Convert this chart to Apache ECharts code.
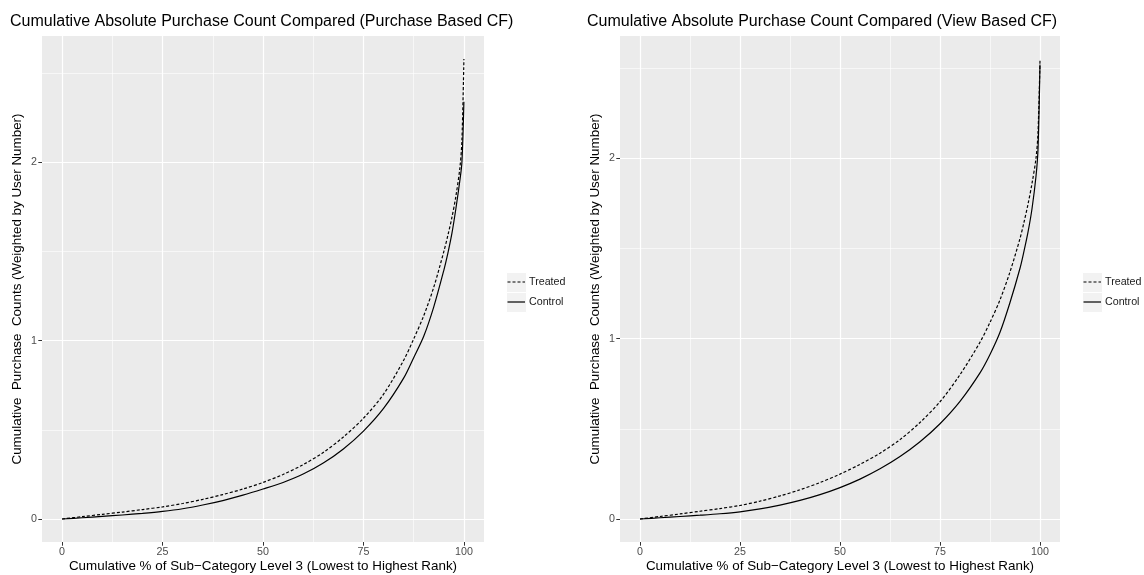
<!DOCTYPE html>
<html>
<head>
<meta charset="utf-8">
<script src="https://cdn.jsdelivr.net/npm/echarts@6/dist/echarts.min.js"></script>
<style>html,body{margin:0;padding:0;background:#fff}#c{width:1144px;height:575px}</style>
</head>
<body>
<div id="c"></div>
<script>
// ---- data ----
const titleLeft = 'Cumulative Absolute Purchase Count Compared (Purchase Based CF)';
const titleRight = 'Cumulative Absolute Purchase Count Compared (View Based CF)';
const xTitle = 'Cumulative % of Sub\u2212Category Level 3 (Lowest to Highest Rank)';
const yTitle = 'Cumulative  Purchase  Counts (Weighted by User Number)';
const seriesNames = ['Treated', 'Control'];
const xTicks = [0, 25, 50, 75, 100];
const xMinor = [12.5, 37.5, 62.5, 87.5];
const yTicks = [0, 1, 2];
const yMinor = [0.5, 1.5, 2.5];

const pctLeft      = [0, 5, 10, 15, 20, 25, 30, 35, 40, 45, 50, 55, 60, 65, 70, 75, 80, 85, 87.5, 90, 92.5, 95, 96, 97, 98, 99, 99.5, 100];
const treatedLeft  = [0, 0.013, 0.026, 0.039, 0.053, 0.068, 0.087, 0.110, 0.137, 0.168, 0.205, 0.250, 0.305, 0.373, 0.460, 0.565, 0.700, 0.890, 1.010, 1.140, 1.300, 1.500, 1.590, 1.690, 1.810, 1.970, 2.120, 2.580];
const controlLeft  = [0, 0.007, 0.0145, 0.0225, 0.0315, 0.0425, 0.0575, 0.0785, 0.1035, 0.1335, 0.168, 0.205, 0.252, 0.314, 0.393, 0.493, 0.620, 0.790, 0.905, 1.025, 1.190, 1.395, 1.490, 1.600, 1.740, 1.900, 2.000, 2.340];

const pctRight     = [0, 5, 10, 15, 20, 25, 30, 35, 40, 45, 50, 55, 60, 65, 70, 75, 80, 85, 87.5, 90, 92.5, 95, 96, 97, 98, 99, 99.5, 100];
const treatedRight = [0, 0.014, 0.028, 0.043, 0.058, 0.075, 0.099, 0.128, 0.162, 0.202, 0.249, 0.303, 0.365, 0.440, 0.535, 0.650, 0.800, 0.980, 1.090, 1.215, 1.370, 1.555, 1.645, 1.745, 1.860, 2.000, 2.140, 2.540];
const controlRight = [0, 0.007, 0.014, 0.021, 0.029, 0.040, 0.056, 0.077, 0.103, 0.135, 0.174, 0.221, 0.278, 0.346, 0.428, 0.528, 0.652, 0.810, 0.912, 1.035, 1.200, 1.390, 1.485, 1.590, 1.720, 1.900, 2.050, 2.520];

// ---- build ----
const FONT = "'Liberation Sans', Arial, Helvetica, sans-serif";
const zip = (xs, ys) => xs.map((x, i) => [x, ys[i]]);
const chart = echarts.init(document.getElementById('c'), null, {renderer: 'canvas'});
const TICK_FS = 10.7, AXT_FS = 13.4, TITLE_FS = 16, LEG_FS = 10.7;
const DASH = [3, 2];

function majorX(grid, name) {
  return {
    type: 'value', gridIndex: grid, min: -5, max: 105, position: 'bottom',
    axisLine: {show: false, onZero: false},
    axisTick: {show: true, length: 3.7, customValues: xTicks, lineStyle: {color: '#333333', width: 1}},
    axisLabel: {customValues: xTicks, margin: 5, color: '#4D4D4D', fontSize: TICK_FS, fontFamily: FONT},
    splitLine: {show: true, lineStyle: {color: '#FFFFFF', width: 1.2}},
    name: name, nameLocation: 'middle', nameGap: 18, nameMoveOverlap: false,
    nameTextStyle: {color: '#000', fontSize: AXT_FS, fontFamily: FONT}
  };
}
function minorX(grid) {
  return {
    type: 'value', gridIndex: grid, min: -5, max: 105, position: 'bottom',
    axisLine: {show: false, onZero: false},
    axisTick: {show: false, customValues: xMinor},
    axisLabel: {show: false, customValues: xMinor},
    splitLine: {show: true, lineStyle: {color: '#FFFFFF', width: 0.6}}
  };
}
function majorY(grid, min, max, gap) {
  return {
    type: 'value', gridIndex: grid, min: min, max: max, position: 'left',
    axisLine: {show: false, onZero: false},
    axisTick: {show: true, length: 3.7, customValues: yTicks, lineStyle: {color: '#333333', width: 1}},
    axisLabel: {customValues: yTicks, margin: 5, color: '#4D4D4D', fontSize: TICK_FS, fontFamily: FONT},
    splitLine: {show: true, lineStyle: {color: '#FFFFFF', width: 1.2}},
    name: yTitle, nameLocation: 'middle', nameGap: gap, nameMoveOverlap: false,
    nameTextStyle: {color: '#000', fontSize: AXT_FS, fontFamily: FONT}
  };
}
function minorY(grid, min, max) {
  return {
    type: 'value', gridIndex: grid, min: min, max: max, position: 'left',
    axisLine: {show: false, onZero: false},
    axisTick: {show: false, customValues: yMinor},
    axisLabel: {show: false, customValues: yMinor},
    splitLine: {show: true, lineStyle: {color: '#FFFFFF', width: 0.6}}
  };
}
function line(name, xi, yi, data, dashed) {
  return {
    type: 'line', name: name, xAxisIndex: xi, yAxisIndex: yi, data: data,
    symbol: 'none', smooth: 0.3, silent: true, animation: false, z: 5,
    itemStyle: {color: '#000000'},
    lineStyle: {color: '#000000', width: 1.2, type: dashed ? DASH : 'solid'}
  };
}
function legendGraphic(x) {
  const els = [];
  seriesNames.forEach((nm, i) => {
    const y = 272 + 20 * i;
    els.push({type: 'rect', left: x, top: y, z: 1, shape: {x: 0, y: 0, width: 20, height: 20},
      style: {fill: '#F2F2F2', stroke: '#FFFFFF', lineWidth: 1}});
    els.push({type: 'line', z: 2, shape: {x1: x + 1.5, y1: y + 10, x2: x + 19, y2: y + 10},
      style: {stroke: '#000', lineWidth: 1.2, lineDash: i === 0 ? DASH : null}});
    els.push({type: 'text', z: 2, x: x + 23, y: y + 10,
      style: {text: nm, fill: '#1A1A1A', font: LEG_FS + 'px ' + FONT, textVerticalAlign: 'middle', verticalAlign: 'middle'}});
  });
  return els;
}

const yL = [-0.129, 2.709];
const yR = [-0.1275, 2.6775];

chart.setOption({
  animation: false,
  backgroundColor: '#FFFFFF',
  title: [
    {text: titleLeft, left: 10, top: 14, padding: 0, textStyle: {color: '#000', fontSize: TITLE_FS, fontWeight: 'normal', fontFamily: FONT}},
    {text: titleRight, left: 587, top: 14, padding: 0, textStyle: {color: '#000', fontSize: TITLE_FS, fontWeight: 'normal', fontFamily: FONT}}
  ],
  grid: [
    {left: 42, top: 36, width: 442, height: 506, show: true, backgroundColor: '#EBEBEB', borderWidth: 0, containLabel: false, outerBoundsMode: 'none'},
    {left: 620, top: 36, width: 440, height: 506, show: true, backgroundColor: '#EBEBEB', borderWidth: 0, containLabel: false, outerBoundsMode: 'none'}
  ],
  xAxis: [majorX(0, xTitle), minorX(0), majorX(1, xTitle), minorX(1)],
  yAxis: [majorY(0, yL[0], yL[1], 18), minorY(0, yL[0], yL[1]), majorY(1, yR[0], yR[1], 18), minorY(1, yR[0], yR[1])],
  graphic: legendGraphic(506).concat(legendGraphic(1082)),
  series: [
    line(seriesNames[0], 0, 0, zip(pctLeft, treatedLeft), true),
    line(seriesNames[1], 0, 0, zip(pctLeft, controlLeft), false),
    line(seriesNames[0], 2, 2, zip(pctRight, treatedRight), true),
    line(seriesNames[1], 2, 2, zip(pctRight, controlRight), false)
  ]
});
</script>
</body>
</html>
